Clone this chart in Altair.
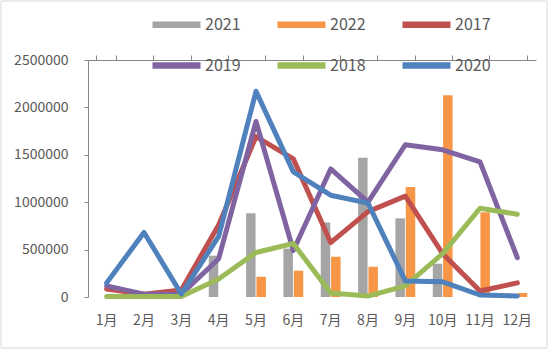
import altair as alt
import pandas as pd

months = ["1月", "2月", "3月", "4月", "5月", "6月", "7月", "8月", "9月", "10月", "11月", "12月"]
bar_series = ["2021", "2022"]
line_series = ["2017", "2019", "2018", "2020"]
legend_order = ["2021", "2022", "2017", "2019", "2018", "2020"]
legend_colors = ["#A5A5A5", "#F79646", "#C0504D", "#8064A2", "#9BBB59", "#4F81BD"]

v2021 = [0, 0, 0, 436000, 883000, 510000, 787000, 1468000, 830000, 351000, 0, 0]
v2022 = [0, 0, 0, 0, 213000, 277000, 425000, 319000, 1160000, 2128000, 894000, 43000]
v2017 = [85000, 30000, 75000, 760000, 1691000, 1457000, 574000, 900000, 1064000, 457000, 64000, 149000]
v2019 = [117000, 30000, 30000, 404000, 1851000, 490000, 1351000, 1000000, 1606000, 1553000, 1425000, 415000]
v2018 = [5000, 5000, 5000, 190000, 470000, 564000, 43000, 10000, 117000, 457000, 936000, 872000]
v2020 = [149000, 681000, 32000, 640000, 2170000, 1320000, 1074000, 990000, 170000, 160000, 21000, 10000]
y_ticks = [0, 500000, 1000000, 1500000, 2000000, 2500000]

bar_values = {"2021": v2021, "2022": v2022}
line_values = {"2017": v2017, "2019": v2019, "2018": v2018, "2020": v2020}

df_bar = pd.DataFrame([
    {"month": m, "series": s, "value": v}
    for s in bar_series for m, v in zip(months, bar_values[s])
])
df_line = pd.DataFrame([
    {"month": m, "series": s, "value": v, "ord": i}
    for i, s in enumerate(line_series) for m, v in zip(months, line_values[s])
])

FONT = "Noto Sans CJK SC"
AXIS_GRAY = "#868686"
TEXT_GRAY = "#595959"

color_scale = alt.Scale(domain=legend_order, range=legend_colors)
x_scale = alt.Scale(domain=months, paddingInner=0.47, paddingOuter=0.235)
y_enc = alt.Y("value:Q", scale=alt.Scale(domain=[0, 2500000], nice=False),
              axis=alt.Axis(values=y_ticks, format="d", grid=False, title=None,
                            tickSize=4, tickColor=AXIS_GRAY, domainColor=AXIS_GRAY,
                            labelColor=TEXT_GRAY, labelFont=FONT, labelFontSize=14,
                            labelPadding=16))

legend = alt.Legend(
    title=None, orient="none", legendX=61, legendY=-63, columns=3, direction="horizontal",
    symbolType="stroke", symbolSize=2304, symbolStrokeWidth=6.5,
    symbolStrokeColor=alt.ExprRef("scale('color', datum.value)"),
    symbolOpacity=1,
    labelFont=FONT, labelFontSize=16, labelColor=TEXT_GRAY, labelOffset=1,
    columnPadding=23, rowPadding=0,
)

bars = alt.Chart(df_bar).mark_bar().encode(
    x=alt.X("month:N", sort=months, scale=x_scale,
            axis=alt.Axis(title=None, labelAngle=0, ticks=False, tickSize=0, domain=False,
                          labelColor=TEXT_GRAY, labelFont=FONT, labelFontSize=14,
                          labelPadding=16)),
    xOffset=alt.XOffset("series:N", sort=bar_series, scale=alt.Scale(paddingInner=0.08)),
    y=y_enc,
    color=alt.Color("series:N", scale=color_scale, legend=legend),
)

lines = alt.Chart(df_line).mark_line(
    strokeWidth=5, interpolate="linear", strokeCap="round", strokeJoin="round"
).encode(
    x=alt.X("month:N", sort=months, scale=x_scale,
            axis=alt.Axis(title=None, labels=False, ticks=True, tickSize=5, bandPosition=1,
                          tickExtra=True, domain=True, domainColor=AXIS_GRAY,
                          tickColor=AXIS_GRAY, grid=False)),
    y=y_enc,
    color=alt.Color("series:N", scale=color_scale, legend=legend),
    order=alt.Order("ord:Q"),
)

frame = alt.Chart(pd.DataFrame({"k": [0]})).mark_rect(
    fill=None, stroke="#D9D9D9", strokeWidth=1
).encode(x=alt.value(-87), x2=alt.value(459), y=alt.value(-59), y2=alt.value(288))

chart = alt.layer(bars, lines, frame).resolve_axis(x="independent").properties(
    width=448, height=237,
    autosize=alt.AutoSizeParams(type="none"),
    padding={"left": 88, "top": 60, "right": 14, "bottom": 55},
    background="white",
).configure_view(stroke=None)

chart.save("out.html", embed_options={"renderer": "svg", "actions": False})
